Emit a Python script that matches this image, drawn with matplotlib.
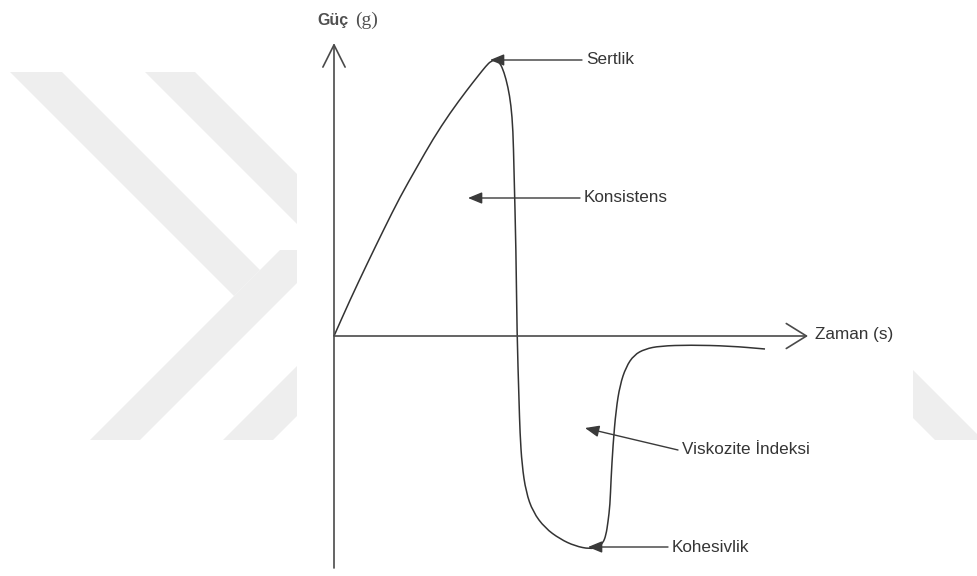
import matplotlib.pyplot as plt
from matplotlib.patches import Polygon, Rectangle, PathPatch
from matplotlib.path import Path

plt.rcParams['font.family'] = ['Liberation Sans', 'DejaVu Sans']

# texture profile curve (time, force) in drawing units
time = [0, 16, 33, 50, 66, 83, 99, 116, 133, 144, 152, 157, 162, 166, 170, 174, 177, 179,
        180, 182, 183, 185, 186, 188, 192, 199, 211, 226, 241, 256, 264, 269, 272, 274,
        276, 277, 279, 282, 286, 292, 300, 311, 326, 356, 396, 431]
force = [0, 36, 72, 107, 139, 169, 197, 223, 246, 260, 270, 275, 276, 273, 264, 249, 231, 206,
         166, 86, 3, -64, -97, -129, -156, -176, -192, -203, -210, -213, -211, -207, -199, -186,
         -169, -144, -109, -74, -49, -31, -19, -13, -10, -9, -10, -13]

# annotations: label, arrow tip, arrow tail
labels = ['Sertlik', 'Konsistens', 'Viskozite İndeksi', 'Kohesivlik']
tips = [(156, 276), (134, 138), (251, -92), (254, -211)]
tails = [(248, 276), (246, 138), (344, -114), (334, -211)]

# faint watermark chevrons (background decoration, pixel space)
watermark = [
    [(10, 72), (62, 72), (260, 270), (234, 296)],
    [(90, 440), (140, 440), (330, 250), (280, 250)],
    [(145, 72), (195, 72), (330, 207), (330, 257)],
    [(223, 440), (273, 440), (330, 383), (330, 333)],
    [(913, 370), (978, 435), (978, 440), (935, 440), (913, 418)],
]

fig = plt.figure(figsize=(9.78, 5.76), dpi=100)

bg = fig.add_axes([0, 0, 1, 1], zorder=0)
bg.set_xlim(0, 978)
bg.set_ylim(576, 0)
bg.axis('off')
for poly in watermark:
    bg.add_patch(Polygon(poly, closed=True, facecolor='#eeeeee', edgecolor='none'))
bg.add_patch(Rectangle((297, 0), 616, 576, facecolor='white', edgecolor='none'))

ax = fig.add_axes([0, 0, 1, 1], zorder=1)
ax.patch.set_alpha(0)
ax.set_xlim(-334, 644)
ax.set_ylim(-240, 336)
ax.axis('off')

axis_col = '#4a4a4a'
txt_col = '#353535'

# axes with open arrow heads
ax.annotate('', xy=(0, 293), xytext=(0, -232),
            arrowprops=dict(arrowstyle='->,head_length=1.6,head_width=0.8',
                            mutation_scale=10, lw=1.2, color=axis_col,
                            shrinkA=0, shrinkB=0))
ax.annotate('', xy=(474, 0), xytext=(0, 0),
            arrowprops=dict(arrowstyle='->,head_length=1.45,head_width=0.9',
                            mutation_scale=10, lw=1.2, color=axis_col,
                            shrinkA=0, shrinkB=0))

# smooth the read points with quadratic beziers through the midpoints
pts = list(zip(time, force))
verts = [pts[0], ((pts[0][0] + pts[1][0]) / 2, (pts[0][1] + pts[1][1]) / 2)]
codes = [Path.MOVETO, Path.LINETO]
for i in range(1, len(pts) - 1):
    mid = ((pts[i][0] + pts[i + 1][0]) / 2, (pts[i][1] + pts[i + 1][1]) / 2)
    verts += [pts[i], mid]
    codes += [Path.CURVE3, Path.CURVE3]
verts.append(pts[-1])
codes.append(Path.LINETO)
ax.add_patch(PathPatch(Path(verts, codes), fill=False, edgecolor='#333333',
                       lw=1.1, joinstyle='round'))

for lab, tip, tail in zip(labels, tips, tails):
    ax.annotate('', xy=tip, xytext=tail,
                arrowprops=dict(arrowstyle='-|>,head_length=0.85,head_width=0.35',
                                mutation_scale=10, lw=1.0, color='#3a3a3a',
                                shrinkA=0, shrinkB=0))
    ax.text(tail[0] + 4, tail[1], lab, fontsize=12.3, color=txt_col,
            ha='left', va='center')

ax.text(481, 1, 'Zaman (s)', fontsize=12.3, color=txt_col, ha='left', va='center')
ax.text(-17, 316, 'Güç', fontsize=11.5, fontweight='bold', color='#505050',
        ha='left', va='center')
ax.text(21, 316, '(g)', fontsize=14, family='Liberation Serif', color='#505050',
        ha='left', va='center')

fig.savefig('out.png', dpi=100)
